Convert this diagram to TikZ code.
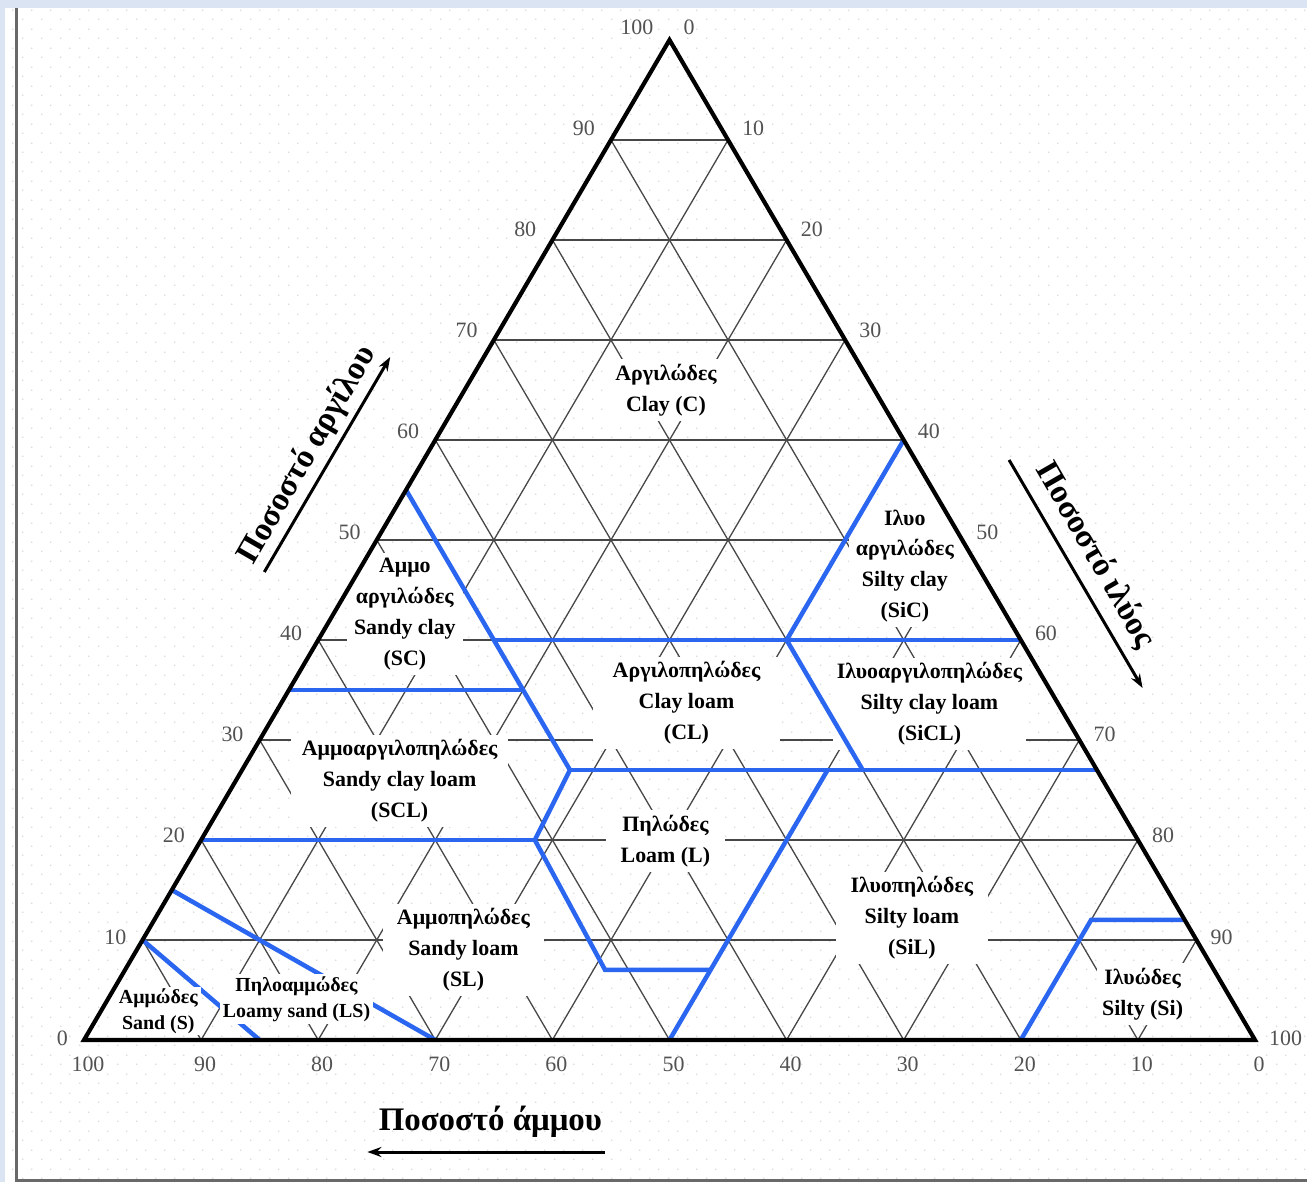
\documentclass[tikz,border=0pt]{standalone}
\usepackage{amsmath}
\usepackage{tikz}
\usepackage{xcolor}
\usepackage{fontspec}
\setmainfont{Liberation Serif}
\usetikzlibrary{arrows.meta,patterns.meta}
\definecolor{soilblue}{RGB}{42,102,240}
\definecolor{framegray}{RGB}{105,105,105}
\definecolor{frameblue}{RGB}{218,228,242}
\tikzdeclarepattern{name=bgdots,type=uncolored,
  bottom left={(0bp,0bp)},top right={(19bp,19bp)},tile size={(19bp,19bp)},
  code={\fill (5bp,5bp) circle (0.9bp); \fill (14.5bp,14.5bp) circle (0.9bp);}}
\begin{document}
\begin{tikzpicture}[x={(11.71bp,0bp)},y={(5.855bp,10bp)}]%
  \tikzstyle{edgen}=[line width=4.2bp,line join=miter]
  \tikzstyle{gridn}=[line width=1.3bp,draw=black!72]
  \tikzstyle{bluen}=[line width=4.5bp,draw=soilblue,line join=miter]
  \tikzstyle{soiln}=[fill=white,align=center,inner xsep=11bp,inner ysep=5bp,font=\bfseries\fontsize{22}{31}\selectfont]
  \tikzstyle{smalln}=[soiln,inner xsep=3bp,inner ysep=2bp,font=\bfseries\fontsize{20}{26}\selectfont]
  \tikzstyle{tikn}=[inner sep=0pt,text=black!68,font=\fontsize{22}{24}\selectfont]
  \tikzstyle{axisn}=[font=\bfseries\fontsize{33}{38}\selectfont]
  \tikzstyle{arrn}=[line width=3bp,-{Stealth[length=14bp,width=10bp]}]
  % frame and paper
  \useasboundingbox (-84bp,-142bp) rectangle (1223bp,1040bp);
  \fill[white] (-84bp,-142bp) rectangle (1223bp,1040bp);
  \fill[pattern=bgdots,pattern color=black!14] (-84bp,-142bp) rectangle (1223bp,1040bp);
  \fill[frameblue] (-84bp,1032bp) rectangle (1223bp,1040bp);
  \fill[frameblue] (-84bp,-142bp) rectangle (-79bp,1032bp);
  \draw[framegray,line width=3bp] (-67.3bp,-142bp) -- (-67.3bp,1032bp);
  \draw[framegray,line width=3bp] (-68.8bp,-140bp) -- (1223bp,-140bp);
  % grid, every 10 per cent
  \foreach \k in {10,20,...,90}{
    \draw[gridn] (0,\k) -- ({100-\k},\k);
    \draw[gridn] (\k,0) -- (\k,{100-\k});
    \draw[gridn] ({100-\k},0) -- (0,{100-\k});
  }
  % sand and loamy sand limits
  \draw[bluen] (0,10) -- (15,0);
  \draw[bluen] (0,15) -- (30,0);
  % classes
  \node(C)[soiln] at (17.2,65) {Αργιλώδες\\Clay (C)};
  \node(SC)[soiln,inner xsep=7bp] at (6.1,42.6) {Αμμο\\αργιλώδες\\Sandy clay\\(SC)};
  \node(SiC)[soiln,inner xsep=7bp] at (46.4,47.4) {Ιλυο\\αργιλώδες\\Silty clay\\(SiC)};
  \node(CL)[soiln,inner xsep=20bp] at (34.6,33.7) {Αργιλοπηλώδες\\Clay loam\\(CL)};
  \node(SiCL)[soiln,inner xsep=4bp] at (55.4,33.6) {Ιλυοαργιλοπηλώδες\\Silty clay loam\\(SiCL)};
  \node(SCL)[soiln] at (14.0,25.9) {Αμμοαργιλοπηλώδες\\Sandy clay loam\\(SCL)};
  \node(L)[soiln,inner xsep=15bp] at (39.7,19.9) {Πηλώδες\\Loam (L)};
  \node(SiL)[soiln,inner xsep=15bp] at (64.6,12.2) {Ιλυοπηλώδες\\Silty loam\\(SiL)};
  \node(SL)[soiln,inner xsep=14bp] at (27.9,9) {Αμμοπηλώδες\\Sandy loam\\(SL)};
  \node(Si)[soiln,inner xsep=5bp] at (88.1,4.6) {Ιλυώδες\\Silty (Si)};
  \node(S)[smalln] at (4.9,2.9) {Αμμώδες\\Sand (S)};
  \node(LS)[smalln] at (16.1,4.1) {Πηλοαμμώδες\\Loamy sand (LS)};
  % class limits
  \draw[bluen] (0,35) -- (20,35);
  \draw[bluen] (0,55) -- (28,27) -- (28.5,20) -- (41,7) -- (50,7);
  \draw[bluen] (15,40) -- (60,40);
  \draw[bluen] (40,60) -- (40,40) -- (53,27);
  \draw[bluen] (28,27) -- (73,27);
  \draw[bluen] (0,20) -- (28.5,20);
  \draw[bluen] (50,27) -- (50,0);
  \draw[bluen] (80,0) -- (80,12) -- (88,12);
  % triangle
  \draw[edgen] (0,0) -- (100,0) -- (0,100) -- cycle;
  % scales
  \foreach \k in {0,10,...,100}{
    \pgfmathsetmacro\up{2+0.11*\k}
    \pgfmathsetmacro\dn{2+0.11*(100-\k)}
    \pgfmathtruncatemacro\sd{100-\k}
    \node(cl\k)[tikn,anchor=east] at ([xshift=-16bp,yshift=\up bp]0,\k) {\k};
    \node(si\k)[tikn,anchor=west] at ([xshift=14bp,yshift=\dn bp]\k,\sd) {\k};
    \node(sa\k)[tikn,anchor=north] at ([xshift=4bp,yshift=-17bp]\sd,0) {\k};
  }
  % axis titles
  \node(clay)[axisn,rotate=60] at (-10.2,58.5) {Ποσοστό αργίλου};
  \node(silt)[axisn,rotate=-60] at (62.1,48.5) {Ποσοστό ιλύος};
  \node(sand)[axisn] at (38.8,-8.2) {Ποσοστό άμμου};
  \coordinate (clay0) at (-8,46.8);
  \coordinate (clay1) at (-8,68.3);
  \coordinate (silt0) at (50,58);
  \coordinate (silt1) at (72.8,35.2);
  \coordinate (sand0) at (50.1,-11.2);
  \coordinate (sand1) at (29.8,-11.2);
  \draw[arrn] (clay0) -- (clay1);
  \draw[arrn] (silt0) -- (silt1);
  \draw[arrn] (sand0) -- (sand1);
\end{tikzpicture}
\end{document}
